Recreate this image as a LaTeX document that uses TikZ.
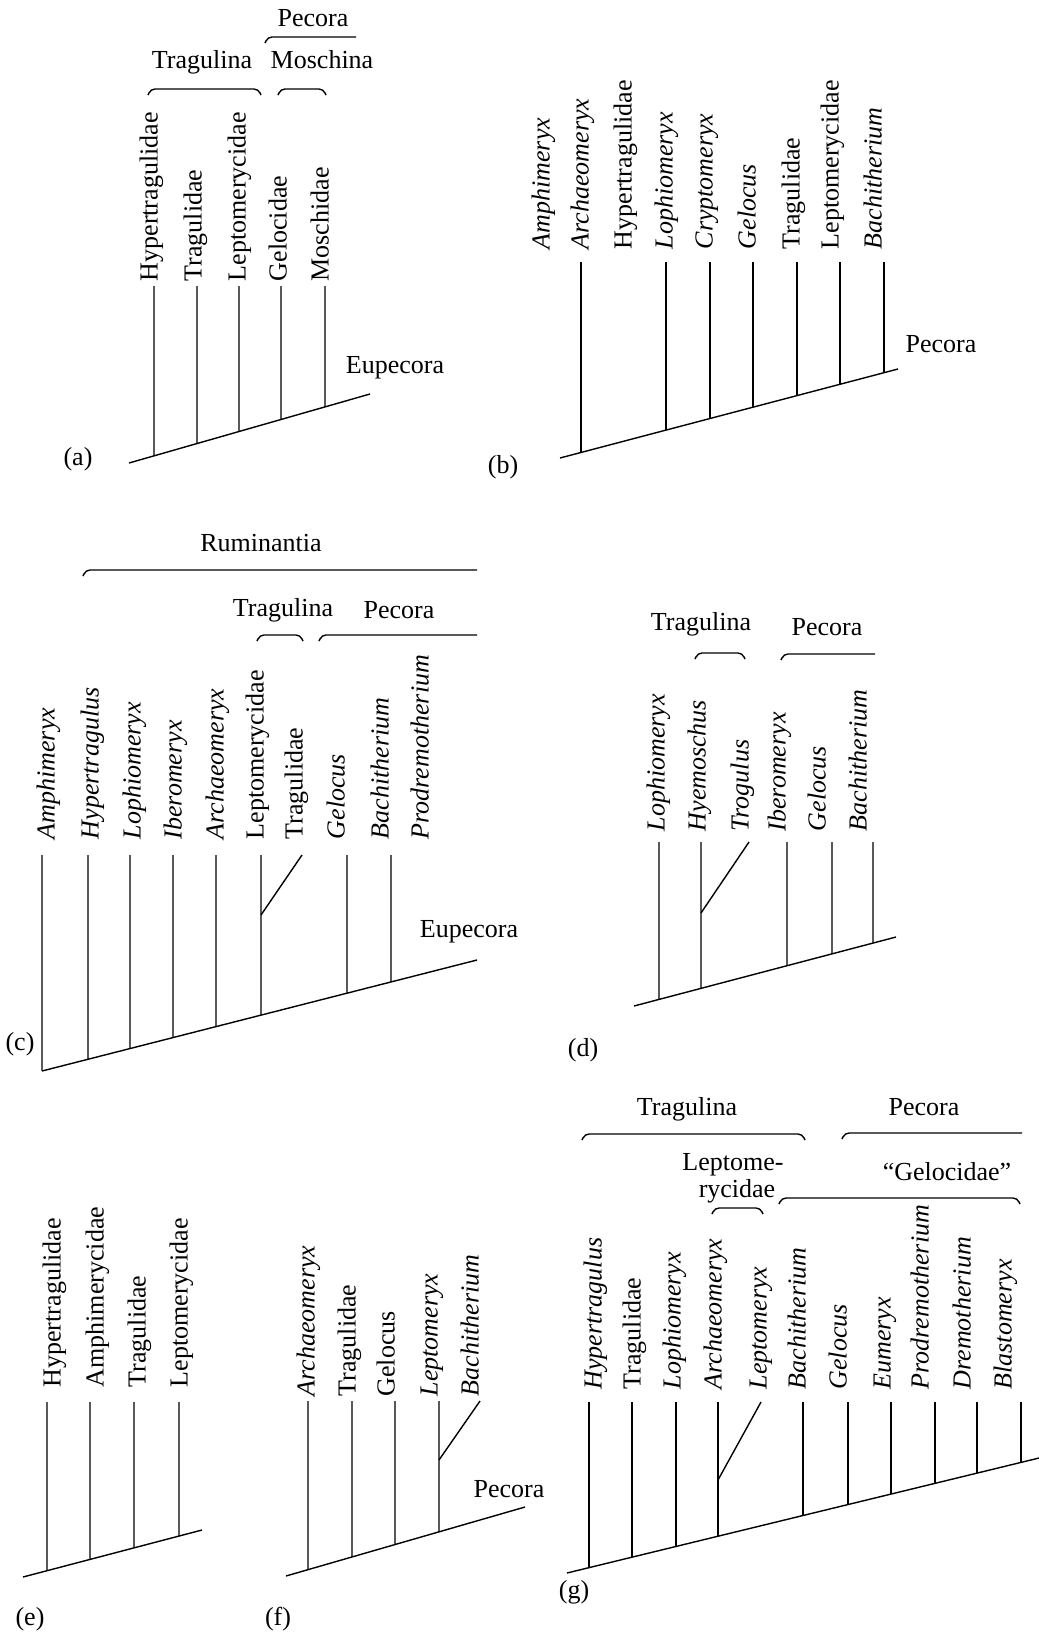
\documentclass[tikz,border=0pt]{standalone}
\usepackage{fontspec}
\setmainfont{Liberation Serif}

% bracket over a group of taxa, hooks at both ends
\newcommand{\clade}[3]{\draw[rounded corners=2pt] (#1,#3+6) -- (#1+3,#3) -- (#2-3,#3) -- (#2,#3+6);}
% bracket with the hook on the left only
\newcommand{\cladeopen}[3]{\draw[rounded corners=2pt] (#1,#3+6) -- (#1+3,#3) -- (#2,#3);}

\tikzset{
  taxon/.style={rotate=90, anchor=mid west, inner sep=0pt},
  group/.style={anchor=base, inner sep=0pt},
  panel/.style={anchor=base, inner sep=0pt},
}

\begin{document}
\begin{tikzpicture}[x=0.5pt, y=-0.5pt, line width=0.7pt, font=\fontsize{13}{13.5}\selectfont]
\useasboundingbox (0,0) rectangle (1039,1634);

% ---------------- (a)
\coordinate (a0) at (129,463);
\coordinate (a1) at (370,394);
\draw (a0) -- (a1);
\foreach \x in {154,197,239,281,325}
  \draw (\x,286) -- (intersection of \x,0--\x,10 and a0--a1);
\foreach \x/\t [count=\i] in {153/Hypertragulidae,197/Tragulidae,241/Leptomerycidae,282/Gelocidae,324/Moschidae}
  \node[taxon] (a\i) at (\x,282) {\t};
\clade{148}{261}{89}
\clade{278}{326}{89}
\cladeopen{265}{356}{37}
\node[group] (a-tra) at (202,68) {Tragulina};
\node[group] (a-mos) at (322,68) {Moschina};
\node[group] (a-pec) at (313,26) {Pecora};
\node[group] (a-eup) at (395,373) {Eupecora};
\node[panel] (a-lab) at (78,465) {(a)};

% ---------------- (b)
\coordinate (b0) at (560,458);
\coordinate (b1) at (898,369);
\draw (b0) -- (b1);
\foreach \x in {581,666,710,753,797,840,884}
  \draw (\x,262) -- (intersection of \x,0--\x,10 and b0--b1);
\foreach \x/\t [count=\i] in {545/\textit{Amphimeryx},584/\textit{Archaeomeryx},627/Hypertragulidae,668/\textit{Lophiomeryx},708/\textit{Cryptomeryx},751/\textit{Gelocus},795/Tragulidae,834/Leptomerycidae,877/\textit{Bachitherium}}
  \node[taxon] (b\i) at (\x,250) {\t};
\node[group] (b-pec) at (941,352) {Pecora};
\node[panel] (b-lab) at (503,473) {(b)};

% ---------------- (c)
\coordinate (c0) at (42,1071);
\coordinate (c1) at (477,960);
\draw (c0) -- (c1);
\foreach \x in {42,88,130,173,216,261,347,391}
  \draw (\x,855) -- (intersection of \x,0--\x,10 and c0--c1);
\coordinate (c-fork) at (261,915);
\draw (302,855) -- (c-fork);
\foreach \x/\t [count=\i] in {50/\textit{Amphimeryx},94/\textit{Hypertragulus},136/\textit{Lophiomeryx},177/\textit{Iberomeryx},219/\textit{Archaeomeryx},259/Leptomerycidae,298/Tragulidae,340/\textit{Gelocus},384/\textit{Bachitherium},424/\textit{Prodremotherium}}
  \node[taxon] (c\i) at (\x,840) {\t};
\cladeopen{83}{477}{570}
\clade{257}{303}{635}
\cladeopen{319}{477}{635}
\node[group] (c-rum) at (261,551) {Ruminantia};
\node[group] (c-tra) at (283,616) {Tragulina};
\node[group] (c-pec) at (399,618) {Pecora};
\node[group] (c-eup) at (469,937) {Eupecora};
\node[panel] (c-lab) at (20,1050) {(c)};

% ---------------- (d)
\coordinate (d0) at (634,1006);
\coordinate (d1) at (896,937);
\draw (d0) -- (d1);
\foreach \x in {659,701,787,832,873}
  \draw (\x,842) -- (intersection of \x,0--\x,10 and d0--d1);
\coordinate (d-fork) at (701,913);
\draw (749,842) -- (d-fork);
\foreach \x/\t [count=\i] in {660/\textit{Lophiomeryx},701/\textit{Hyemoschus},744/\textit{Trogulus},781/\textit{Iberomeryx},821/\textit{Gelocus},862/\textit{Bachitherium}}
  \node[taxon] (d\i) at (\x,832) {\t};
\clade{695}{745}{653}
\cladeopen{781}{875}{654}
\node[group] (d-tra) at (701,630) {Tragulina};
\node[group] (d-pec) at (827,635) {Pecora};
\node[panel] (d-lab) at (583,1056) {(d)};

% ---------------- (e)
\coordinate (e0) at (23,1577);
\coordinate (e1) at (202,1530);
\draw (e0) -- (e1);
\foreach \x in {47,90,134,179}
  \draw (\x,1402) -- (intersection of \x,0--\x,10 and e0--e1);
\foreach \x/\t [count=\i] in {56/Hypertragulidae,99/Amphimerycidae,141/Tragulidae,183/Leptomerycidae}
  \node[taxon] (e\i) at (\x,1388) {\t};
\node[panel] (e-lab) at (30,1625) {(e)};

% ---------------- (f)
\coordinate (f0) at (286,1576);
\coordinate (f1) at (525,1507);
\draw (f0) -- (f1);
\foreach \x in {308,352,395,439}
  \draw (\x,1401) -- (intersection of \x,0--\x,10 and f0--f1);
\coordinate (f-fork) at (439,1460);
\draw (480,1401) -- (f-fork);
\foreach \x/\t [count=\i] in {310/\textit{Archaeomeryx},351/Tragulidae,390/Gelocus,433/\textit{Leptomeryx},474/\textit{Bachitherium}}
  \node[taxon] (f\i) at (\x,1397) {\t};
\node[group] (f-pec) at (509,1497) {Pecora};
\node[panel] (f-lab) at (278,1625) {(f)};

% ---------------- (g)
\coordinate (g0) at (567,1573);
\coordinate (g1) at (1039,1458);
\draw (g0) -- (g1);
\foreach \x in {589,632,676,718,803,848,891,935,977,1021}
  \draw (\x,1402) -- (intersection of \x,0--\x,10 and g0--g1);
\coordinate (g-fork) at (718,1480);
\draw (761,1402) -- (g-fork);
\foreach \x/\t [count=\i] in {597/\textit{Hypertragulus},636/Tragulidae,676/\textit{Lophiomeryx},717/\textit{Archaeomeryx},762/\textit{Leptomeryx},801/\textit{Bachitherium},842/\textit{Gelocus},886/\textit{Eumeryx},924/\textit{Prodremotherium},966/\textit{Dremotherium},1007/\textit{Blastomeryx}}
  \node[taxon] (g\i) at (\x,1390) {\t};
\clade{582}{805}{1134}
\cladeopen{842}{1022}{1133}
\clade{779}{1020}{1198}
\clade{712}{763}{1208}
\node[group] (g-tra) at (687,1115) {Tragulina};
\node[group] (g-pec) at (924,1115) {Pecora};
\node[group] (g-gel) at (947,1180) {``Gelocidae''};
\node[group] (g-lep1) at (733,1170) {Leptome-};
\node[group] (g-lep2) at (737,1197) {rycidae};
\node[panel] (g-lab) at (574,1598) {(g)};
\end{tikzpicture}
\end{document}
